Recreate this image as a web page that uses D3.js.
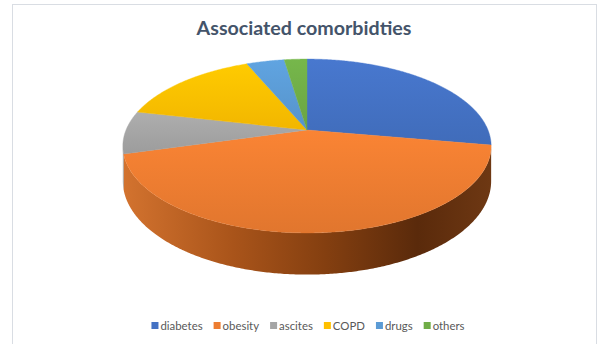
<!DOCTYPE html>
<html><head><meta charset="utf-8">
<script src="https://cdn.jsdelivr.net/npm/d3@7"></script>
<style>html,body{margin:0;padding:0;background:#fff;}svg{display:block;}</style>
</head><body>
<svg id="chart" width="600" height="344"></svg>
<script>
const title = "Associated comorbidties";
const categories = ["diabetes","obesity","ascites","COPD","drugs","others"];
const values = [35, 54, 10, 19, 5, 3];
const colors = ["#4472C4","#ED7D31","#A5A5A5","#FFC000","#5B9BD5","#70AD47"];

const svg = d3.select("#chart");
const defs = svg.append("defs");

// chart frame
svg.append("rect").attr("x",12.5).attr("y",4.5).attr("width",584).attr("height",360)
  .attr("fill","#fff").attr("stroke","#d9dde3").attr("stroke-width",1);

// perspective projection of a tilted disc
const cx = 307, cy = 130, A = 181, B = 84, P = 0.184, TH = 34;
function project(theta, z) {
  const u = Math.sin(theta), v = -Math.cos(theta);
  const den = 1 - P * v;
  return [cx + A * u / den, cy + B * v / den + z * TH / den];
}
const pie = d3.pie().sort(null).value(d => d)(values);
const line = d3.line();
const step = Math.PI / 360;
function arcPts(a0, a1, z) {
  const n = Math.max(2, Math.ceil(Math.abs(a1 - a0) / step));
  return d3.range(n + 1).map(i => project(a0 + (a1 - a0) * i / n, z));
}

// side gradient
const sg = defs.append("linearGradient").attr("id","sideG").attr("gradientUnits","userSpaceOnUse")
  .attr("x1",123).attr("x2",491).attr("y1",0).attr("y2",0);
[[0,"#d3732f"],[0.3,"#a9541a"],[0.55,"#843f10"],[0.8,"#5a2a0b"],[1,"#6e3813"]]
  .forEach(([o,c]) => sg.append("stop").attr("offset",o).attr("stop-color",c));
const sgg = defs.append("linearGradient").attr("id","sideGray").attr("gradientUnits","userSpaceOnUse")
  .attr("x1",123).attr("x2",491).attr("y1",0).attr("y2",0);
[[0,"#9a9a9a"],[1,"#5a5a5a"]].forEach(([o,c]) => sgg.append("stop").attr("offset",o).attr("stop-color",c));

// visible side range
const thR = Math.acos(-P), thL = 2 * Math.PI - thR;
const sides = svg.append("g");
pie.forEach((d, i) => {
  const a0 = Math.max(d.startAngle, thR), a1 = Math.min(d.endAngle, thL);
  if (a1 <= a0) return;
  const pts = arcPts(a0, a1, 0).concat(arcPts(a1, a0, 1));
  sides.append("path").attr("d", line(pts) + "Z")
    .attr("fill", i === 1 ? "url(#sideG)" : (i === 2 ? "url(#sideGray)" : d3.color(colors[i]).darker(1)));
});

// top faces
const tops = svg.append("g");
pie.forEach((d, i) => {
  const g = defs.append("linearGradient").attr("id","topG"+i).attr("x1",0).attr("x2",0).attr("y1",0).attr("y2",1);
  g.append("stop").attr("offset",0).attr("stop-color", d3.color(colors[i]).brighter(0.15));
  g.append("stop").attr("offset",1).attr("stop-color", d3.color(colors[i]).darker(0.15));
  const pts = [[cx, cy]].concat(arcPts(d.startAngle, d.endAngle, 0));
  tops.append("path").attr("d", line(pts) + "Z").attr("fill","url(#topG"+i+")")
    .attr("stroke", "url(#topG"+i+")").attr("stroke-width", 0.4);
});

// title
const t = svg.append("text").attr("x",304).attr("y",35).attr("text-anchor","middle")
  .attr("font-family","Lato, 'Open Sans', sans-serif").attr("font-weight","bold")
  .attr("font-size",20).attr("fill","#44546A").text(title);
const tw = t.node().getComputedTextLength();
t.attr("font-size", 20 * 215 / tw);

// legend
const lg = svg.append("g");
const fs = 11.4;
const gap = 11;
let x = 0;
categories.forEach((c, i) => {
  const g = lg.append("g");
  g.append("rect").attr("x",0).attr("y",-3.5).attr("width",7).attr("height",7).attr("fill",colors[i]);
  const tx = g.append("text").attr("x",9).attr("y",4).attr("font-family","Lato, 'Open Sans', sans-serif")
    .attr("font-size",fs).attr("fill","#595959").text(c);
  const w = 9 + tx.node().getComputedTextLength();
  g.attr("transform", `translate(${x},0)`);
  x += w + gap;
});
const total = x - gap;
lg.attr("transform", `translate(${308 - total / 2},325.5)`);
</script>
</body></html>
